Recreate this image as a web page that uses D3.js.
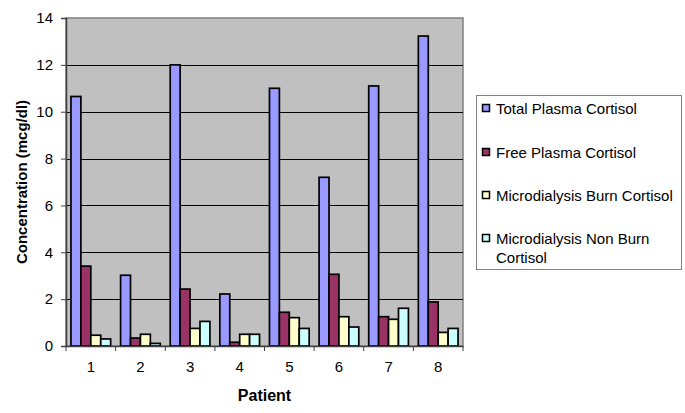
<!DOCTYPE html>
<html>
<head>
<meta charset="utf-8">
<script src="https://cdn.jsdelivr.net/npm/d3@7"></script>
<style>
  html, body { margin: 0; padding: 0; background: #fff; }
  svg { display: block; font-family: "Liberation Sans", Arial, sans-serif; }
</style>
</head>
<body>
<svg id="chart" width="685" height="413"></svg>
<script>
const patients = ["1", "2", "3", "4", "5", "6", "7", "8"];
const seriesNames = [
  "Total Plasma Cortisol",
  "Free Plasma Cortisol",
  "Microdialysis Burn Cortisol",
  "Microdialysis Non Burn Cortisol"
];
const totalPlasma = [10.65, 3.02, 12.0, 2.22, 11.0, 7.2, 11.1, 13.23];
const freePlasma = [3.41, 0.34, 2.43, 0.16, 1.44, 3.06, 1.25, 1.88];
const burnMicro = [0.46, 0.5, 0.75, 0.5, 1.21, 1.25, 1.14, 0.58];
const nonBurnMicro = [0.3, 0.11, 1.05, 0.5, 0.75, 0.81, 1.61, 0.75];
const yTicks = [0, 2, 4, 6, 8, 10, 12, 14];
const colors = ["#9999ff", "#993366", "#ffffcc", "#ccffff"];

const series = [totalPlasma, freePlasma, burnMicro, nonBurnMicro];

const svg = d3.select("#chart");
const plot = { left: 66, top: 18, right: 463, bottom: 346 };

const x0 = d3.scaleBand().domain(patients).range([plot.left, plot.right]);
const xs = d3.scaleBand().domain(d3.range(series.length)).range([0, x0.bandwidth()]).paddingInner(0).paddingOuter(0.5);
const y = d3.scaleLinear().domain([0, 14]).range([plot.bottom, plot.top]);

// plot area
svg.append("rect")
  .attr("x", plot.left).attr("y", plot.top)
  .attr("width", plot.right - plot.left).attr("height", plot.bottom - plot.top)
  .attr("fill", "#c0c0c0").attr("stroke", "#808080").attr("stroke-width", 1.5);

// gridlines
svg.append("g")
  .selectAll("line")
  .data(yTicks.filter((d) => d > 0 && d < 14))
  .join("line")
  .attr("x1", plot.left).attr("x2", plot.right)
  .attr("y1", (d) => Math.round(y(d)) + 0.5).attr("y2", (d) => Math.round(y(d)) + 0.5)
  .attr("stroke", "#000").attr("stroke-width", 1);

// bars
series.forEach((values, si) => {
  svg.append("g")
    .selectAll("rect")
    .data(values)
    .join("rect")
    .attr("x", (d, i) => x0(patients[i]) + xs(si))
    .attr("y", (d) => y(d))
    .attr("width", xs.bandwidth())
    .attr("height", (d) => y(0) - y(d))
    .attr("fill", colors[si])
    .attr("stroke", "#000")
    .attr("stroke-width", 1.7);
});

// y axis
const yAxis = svg.append("g")
  .attr("transform", `translate(${plot.left},0)`)
  .call(d3.axisLeft(y).tickValues(yTicks).tickSize(5).tickPadding(8).tickFormat(d3.format("d")));
yAxis.select(".domain").attr("stroke", "#404040").attr("stroke-width", 1.5);
yAxis.selectAll(".tick line").attr("stroke", "#404040");
yAxis.selectAll("text").attr("font-size", 15).attr("font-family", "Liberation Sans, Arial, sans-serif").attr("fill", "#000");

// x axis
const xAxis = svg.append("g")
  .attr("transform", `translate(0,${plot.bottom})`)
  .call(d3.axisBottom(x0).tickSize(0).tickPadding(15));
xAxis.select(".domain").attr("stroke", "#404040").attr("stroke-width", 1.5);
xAxis.selectAll("text").attr("font-size", 15).attr("font-family", "Liberation Sans, Arial, sans-serif").attr("fill", "#000");
svg.append("g")
  .selectAll("line")
  .data(d3.range(patients.length + 1))
  .join("line")
  .attr("x1", (i) => plot.left + i * x0.step()).attr("x2", (i) => plot.left + i * x0.step())
  .attr("y1", plot.bottom).attr("y2", plot.bottom + 5)
  .attr("stroke", "#404040");

// axis titles
svg.append("text")
  .attr("transform", `translate(21,${(plot.top + plot.bottom) / 2}) rotate(-90)`)
  .attr("text-anchor", "middle")
  .attr("dominant-baseline", "central")
  .attr("font-weight", "bold").attr("font-size", 15)
  .text("Concentration (mcg/dl)");

svg.append("text")
  .attr("x", (plot.left + plot.right) / 2).attr("y", 401)
  .attr("text-anchor", "middle")
  .attr("font-weight", "bold").attr("font-size", 16)
  .text("Patient");

// legend
const legend = svg.append("g");
legend.append("rect")
  .attr("x", 476.5).attr("y", 95.5).attr("width", 205).attr("height", 174)
  .attr("fill", "#fff").attr("stroke", "#808080");

const legendRows = [108, 152, 195, 238];
seriesNames.forEach((name, i) => {
  const g = legend.append("g").attr("transform", `translate(0,${legendRows[i]})`);
  g.append("rect")
    .attr("x", 482.5).attr("y", -3.5).attr("width", 7).attr("height", 7)
    .attr("fill", colors[i]).attr("stroke", "#000").attr("stroke-width", 1.5);
  const t = g.append("text").attr("x", 496).attr("y", 5.5).attr("font-size", 15);
  if (i === 3) {
    t.append("tspan").attr("x", 496).text("Microdialysis Non Burn");
    t.append("tspan").attr("x", 496).attr("dy", 19).text("Cortisol");
  } else {
    t.text(name);
  }
});
</script>
</body>
</html>
